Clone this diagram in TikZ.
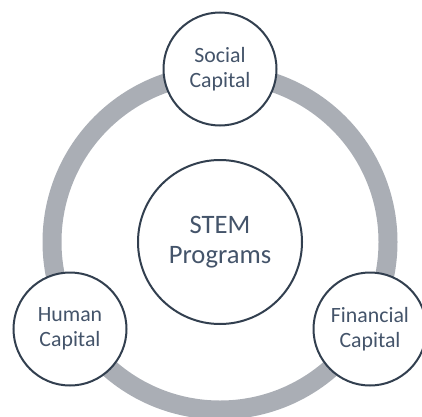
\documentclass[tikz,border=0pt]{standalone}
\usepackage{fontspec}
\setmainfont{Carlito}
\definecolor{ringgray}{HTML}{AAAEB5}
\definecolor{edgenavy}{HTML}{323F4F}
\definecolor{textslate}{HTML}{44546A}
\begin{document}
\begin{tikzpicture}[
  x=1pt, y=1pt,
  ring/.style={draw=ringgray, line width=19pt},
  capital/.style={circle, draw=edgenavy, line width=2pt, fill=white, text=textslate, align=center,
    inner sep=0pt, minimum size=113pt, font=\fontsize{21.8}{24.5}\selectfont},
  hub/.style={capital, minimum size=164pt, font=\fontsize{26.6}{30.5}\selectfont}
]
\useasboundingbox (0,0) rectangle (422,416);
\clip (0,0) rectangle (422,416);
\coordinate (centre) at (220,174);
\draw[ring] (centre) circle (168);
\node[hub] (stem) at (centre) {STEM\\Programs};
\node[capital] (social) at (220,347) {Social\\Capital};
\node[capital] (human) at (70,87) {Human\\Capital};
\node[capital] (financial) at (370,87) {Financial\\Capital};
\end{tikzpicture}
\end{document}
